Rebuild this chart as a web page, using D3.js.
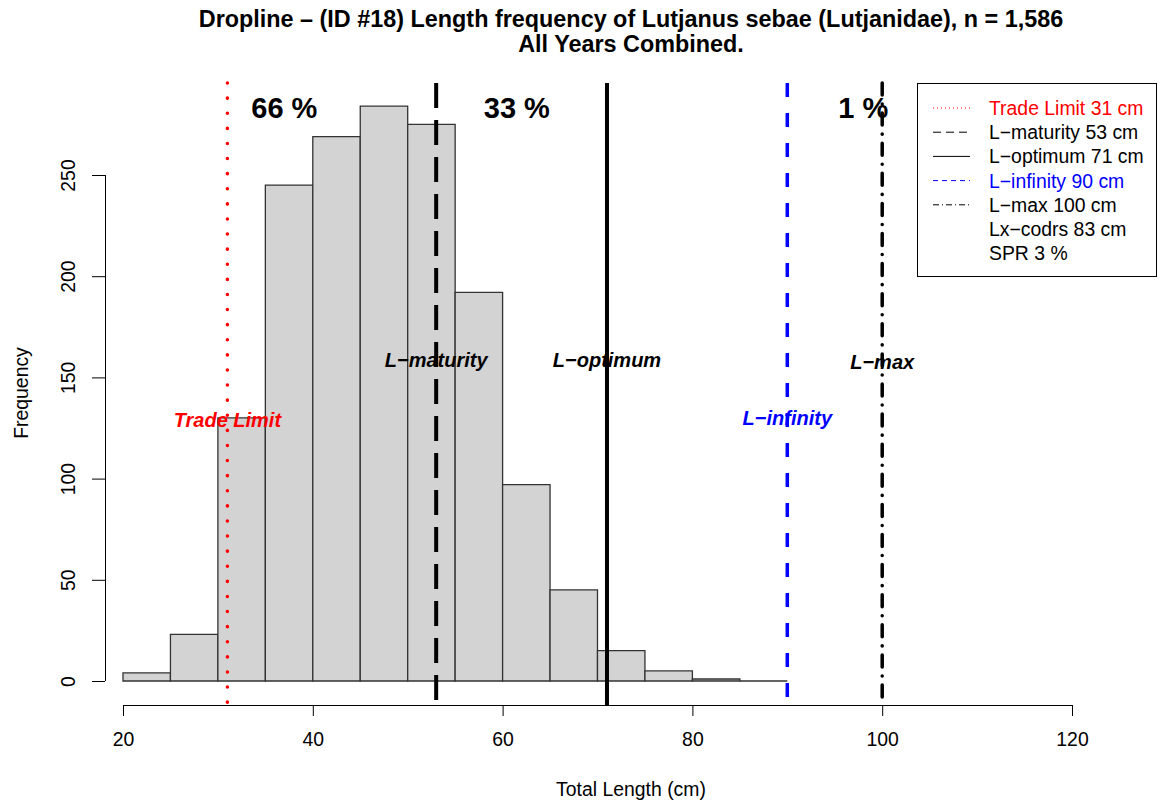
<!DOCTYPE html>
<html><head><meta charset="utf-8">
<script src="https://cdn.jsdelivr.net/npm/d3@7"></script>
<style>body{margin:0;background:#fff}svg{display:block}</style>
</head><body>
<svg id="c" width="1163" height="805"></svg>
<script>
const binStarts = [20,25,30,35,40,45,50,55,60,65,70,75,80,85];
const binWidth = 5;
const counts = [4,23,130,245,269,284,275,192,97,45,15,5,1,0];
const xTicks = [20,40,60,80,100,120];
const yTicks = [0,50,100,150,200,250];
const refNames = ["Trade Limit","L\u2212maturity","L\u2212optimum","L\u2212infinity","L\u2212max"];
const refValues = [31,53,71,90,100];
const refColors = ["#ff0000","#000000","#000000","#0000ff","#000000"];
const pctLabels = ["66 %","33 %","1 %"];
const pctX = [37,61.5,98];
const legendTexts = ["Trade Limit 31 cm","L\u2212maturity 53 cm","L\u2212optimum 71 cm","L\u2212infinity 90 cm","L\u2212max 100 cm","Lx\u2212codrs 83 cm","SPR 3 %"];
const legendColors = ["#ff0000","#000","#000","#0000ff","#000","#000","#000"];

const svg = d3.select("#c");
const x = d3.scaleLinear().domain([20,120]).range([123,1072]);
const y = d3.scaleLinear().domain([0,250]).range([681,175]);
const plotTop = 83, plotBottom = 705;
const FONT = "'Liberation Sans', Arial, sans-serif";
const FS = 19.4;

// title
function fitText(sel, w){
  let fs = 21; sel.attr("font-size",fs);
  const L = sel.node().getComputedTextLength();
  sel.attr("font-size", fs*w/L);
}
const t1 = svg.append("text").attr("x",631).attr("y",27).attr("text-anchor","middle")
  .attr("font-family",FONT).attr("font-weight","bold")
  .text("Dropline \u2013 (ID #18) Length frequency of Lutjanus sebae (Lutjanidae), n = 1,586");
fitText(t1, 865);
const tfs = +t1.attr("font-size");
svg.append("text").attr("x",631).attr("y",52).attr("text-anchor","middle")
  .attr("font-family",FONT).attr("font-weight","bold").attr("font-size",tfs)
  .text("All Years Combined.");

// bars
svg.append("g").selectAll("path").data(binStarts).join("path")
  .attr("d",(d,i)=>`M${x(d)},${y(0)}V${y(counts[i])}H${x(d+binWidth)}V${y(0)}Z`)
  .attr("fill","#d3d3d3").attr("stroke","#333").attr("stroke-width",1.3);

// axes
const xAxis = d3.axisBottom(x).tickValues(xTicks).tickSize(11).tickPadding(16).tickFormat(d3.format("d"));
const gx = svg.append("g").attr("transform",`translate(0,${plotBottom})`).call(xAxis);
gx.selectAll("text").attr("font-family",FONT).attr("font-size",FS).attr("fill","#000");
gx.selectAll("line,path").attr("stroke","#000").attr("stroke-width",1);
gx.select(".domain").attr("d",`M${x(20)},0.5H${x(120)}`);

const yAxis = d3.axisLeft(y).tickValues(yTicks).tickSize(13).tickPadding(16);
const gy = svg.append("g").attr("transform","translate(105,0)").call(yAxis);
gy.selectAll("line,path").attr("stroke","#000").attr("stroke-width",1);
gy.select(".domain").attr("d",`M0.5,${y(0)}V${y(250)}`);
gy.selectAll("text").attr("font-family",FONT).attr("font-size",FS).attr("fill","#000")
  .attr("text-anchor","middle").attr("dy",null)
  .attr("transform","translate(-30,0) rotate(-90)")
  .attr("x",0).attr("y",0);

svg.append("text").attr("x",631).attr("y",796).attr("text-anchor","middle")
  .attr("font-family",FONT).attr("font-size",FS).text("Total Length (cm)");
svg.append("text").attr("transform","translate(28,393) rotate(-90)").attr("text-anchor","middle")
  .attr("font-family",FONT).attr("font-size",FS).text("Frequency");

// reference lines
const dashes = ["0.1,15","25,12","","14,16","12,9,0.1,9"];
const widths = [3.5,4,4,3.5,3.5];
svg.append("g").selectAll("line").data(refValues).join("line")
  .attr("x1",d=>x(d)).attr("x2",d=>x(d)).attr("y1",plotTop).attr("y2",plotBottom)
  .attr("stroke",(d,i)=>refColors[i]).attr("stroke-width",(d,i)=>widths[i])
  .attr("stroke-dasharray",(d,i)=>dashes[i]||null).attr("stroke-linecap",(d,i)=>i===0||i===4?"round":"butt");

// percent labels
svg.append("g").selectAll("text").data(pctLabels).join("text")
  .attr("x",(d,i)=>x(pctX[i])).attr("y",118).attr("text-anchor","middle")
  .attr("font-family",FONT).attr("font-weight","bold").attr("font-size",29).text(d=>d);

// ref labels
const labelY = [427,367,367,425,369];
svg.append("g").selectAll("text").data(refNames).join("text")
  .attr("x",(d,i)=>x(refValues[i])).attr("y",(d,i)=>labelY[i]).attr("text-anchor","middle")
  .attr("font-family",FONT).attr("font-weight","bold").attr("font-style","italic").attr("font-size",20)
  .attr("fill",(d,i)=>refColors[i]).text(d=>d);

// legend
const lg = svg.append("g");
lg.append("rect").attr("x",917.5).attr("y",83.5).attr("width",239).attr("height",193)
  .attr("fill","#fff").attr("stroke","#000").attr("stroke-width",1);
const legDash = ["1,3","8,5","","5,4","6,3,1,3"];
legendTexts.forEach((t,i)=>{
  const yy = 108 + i*24.2;
  if(i<5){
    lg.append("line").attr("x1",933).attr("x2",970).attr("y1",yy).attr("y2",yy)
      .attr("stroke",refColors[i]).attr("stroke-width",1).attr("stroke-dasharray",legDash[i]||null);
  }
  lg.append("text").attr("x",989).attr("y",yy+7).attr("font-family",FONT).attr("font-size",FS)
    .attr("fill",legendColors[i]).text(t);
});
</script>
</body></html>
